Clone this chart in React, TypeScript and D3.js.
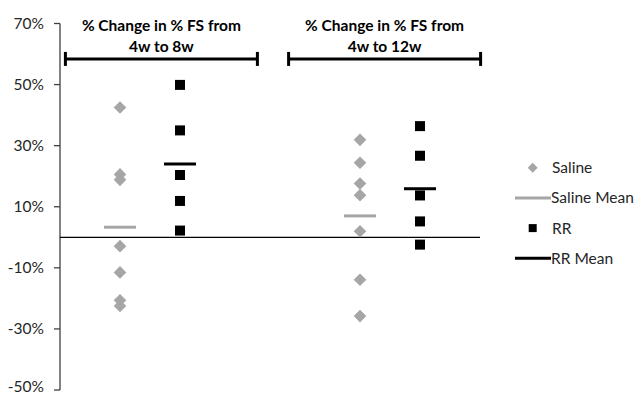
import React from "react";
import * as d3 from "d3";

// values in % change
const salineX = [1, 5];
const rrX = [2, 6];
const saline8w = [42.5, 20.6, 18.8, -2.9, -11.5, -20.6, -22.5];
const rr8w = [49.9, 35, 20.4, 11.9, 2.2];
const saline12w = [31.9, 24.4, 17.6, 13.8, 2, -13.9, -25.8];
const rr12w = [36.4, 26.7, 13.7, 5.2, -2.4];
const salineMeans = [3.3, 7];
const rrMeans = [24, 15.9];
const titles = [
  ["% Change in % FS from", "4w to 8w"],
  ["% Change in % FS from", "4w to 12w"],
];
const bracketCenters = [1.69, 5.41];
const bracketHalf = 1.6;
const bracketValue = 58.4;
const yTicks = [70, 50, 30, 10, -10, -30, -50];
const legendItems = ["Saline", "Saline Mean", "RR", "RR Mean"];

const W = 638;
const H = 396;
const GREY = "#a6a6a6";
const FONT = "Lato, 'Open Sans', sans-serif";

export default function App() {
  const x = d3.scaleLinear().domain([0, 7]).range([60, 480]);
  const y = d3.scaleLinear().domain([-50, 70]).range([390, 23.5]);

  const salineGroups = [saline8w, saline12w];
  const rrGroups = [rr8w, rr12w];
  const diamond = (cx: number, cy: number, r = 6.3) =>
    `M${cx},${cy - r}L${cx + r},${cy}L${cx},${cy + r}L${cx - r},${cy}Z`;

  return (
    <svg
      width={W}
      height={H}
      style={{ position: "absolute", left: 0, top: 0, background: "#fff" }}
      fontFamily={FONT}
    >
      {/* y axis */}
      <line x1={x(0)} x2={x(0)} y1={y(70)} y2={y(-50)} stroke="#404040" strokeWidth={1.3} />
      {yTicks.map((t) => (
        <g key={t}>
          <line x1={x(0) - 6} x2={x(0)} y1={y(t)} y2={y(t)} stroke="#404040" strokeWidth={1.3} />
          <text
            x={x(0) - 16}
            y={Math.min(y(t) + 5, H - 4)}
            textAnchor="end"
            fontSize={15.5}
            fill="#262626"
          >
            {t}%
          </text>
        </g>
      ))}
      {/* zero line */}
      <line x1={x(0)} x2={x(7)} y1={y(0)} y2={y(0)} stroke="#000" strokeWidth={1.3} />

      {/* brackets + titles */}
      {bracketCenters.map((c, i) => {
        const x1 = x(c - bracketHalf);
        const x2 = x(c + bracketHalf);
        const by = y(bracketValue);
        return (
          <g key={i}>
            <line x1={x1} x2={x2} y1={by} y2={by} stroke="#000" strokeWidth={3} />
            <line x1={x1} x2={x1} y1={by - 7} y2={by + 7} stroke="#000" strokeWidth={3} />
            <line x1={x2} x2={x2} y1={by - 7} y2={by + 7} stroke="#000" strokeWidth={3} />
            {titles[i].map((s, j) => (
              <text
                key={j}
                x={x(c)}
                y={31 + j * 21}
                textAnchor="middle"
                fontSize={15.5}
                fontWeight="bold"
                fill="#000"
              >
                {s}
              </text>
            ))}
          </g>
        );
      })}

      {/* saline points */}
      {salineGroups.map((g, i) =>
        g.map((v, j) => <path key={`s${i}-${j}`} d={diamond(x(salineX[i]), y(v))} fill={GREY} />)
      )}
      {/* rr points */}
      {rrGroups.map((g, i) =>
        g.map((v, j) => (
          <rect
            key={`r${i}-${j}`}
            x={x(rrX[i]) - 5}
            y={y(v) - 5}
            width={10}
            height={10}
            fill="#000"
          />
        ))
      )}
      {/* means */}
      {salineMeans.map((v, i) => (
        <line
          key={`sm${i}`}
          x1={x(salineX[i]) - 16}
          x2={x(salineX[i]) + 16}
          y1={y(v)}
          y2={y(v)}
          stroke={GREY}
          strokeWidth={3}
        />
      ))}
      {rrMeans.map((v, i) => (
        <line
          key={`rm${i}`}
          x1={x(rrX[i]) - 16}
          x2={x(rrX[i]) + 16}
          y1={y(v)}
          y2={y(v)}
          stroke="#000"
          strokeWidth={3}
        />
      ))}

      {/* legend */}
      {legendItems.map((name, i) => {
        const ly = 167.7 + i * 30.2;
        return (
          <g key={name}>
            {i === 0 && <path d={diamond(532.7, ly, 5)} fill={GREY} />}
            {i === 1 && <line x1={515} x2={551} y1={ly} y2={ly} stroke={GREY} strokeWidth={3} />}
            {i === 2 && <rect x={528.7} y={ly - 4} width={8} height={8} fill="#000" />}
            {i === 3 && <line x1={515} x2={551} y1={ly} y2={ly} stroke="#000" strokeWidth={3} />}
            <text x={i % 2 === 0 ? 552 : 551} y={ly} dy="0.35em" fontSize={15.5} fill="#262626">
              {name}
            </text>
          </g>
        );
      })}
    </svg>
  );
}
